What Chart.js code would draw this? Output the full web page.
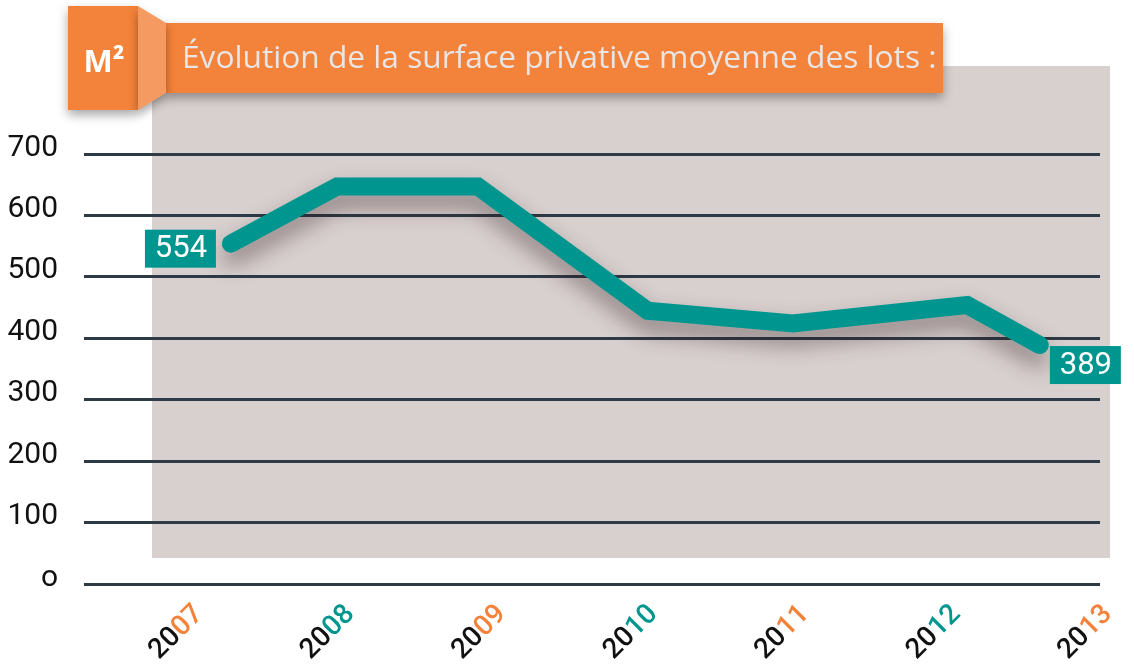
<!DOCTYPE html>
<html>
<head>
<meta charset="utf-8">
<script src="https://cdn.jsdelivr.net/npm/chart.js@4/dist/chart.umd.min.js"></script>
<style>
    html, body { margin: 0; padding: 0; background: #fff; }
    #wrap { width: 1134px; height: 669px; position: relative; }
</style>
</head>
<body>
<div id="wrap"><canvas id="myChart" width="1134" height="669"></canvas></div>
<script>
// données
var years = ["2007", "2008", "2009", "2010", "2011", "2012", "2013"];
var yearPos = [2007.17, 2007.87, 2008.8, 2009.92, 2010.88, 2012.03, 2012.51]; // position des points sur l'axe des années
var surface = [554, 647, 647, 445, 424, 454, 389];
var yTicks = [0, 100, 200, 300, 400, 500, 600, 700];
var yLabels = ["o", "100", "200", "300", "400", "500", "600", "700"];
var title = "Évolution de la surface privative moyenne des lots :";

var ORANGE = "#f3823a";
var TEAL = "#00968f";

// fond gris + bandeau titre
var backgroundPlugin = {
    id: "background",
    beforeDraw: function(chart) {
        var ctx = chart.ctx;
        ctx.save();
        ctx.fillStyle = "#d8d0cf";
        ctx.fillRect(152, 66, 958, 492);

        // bandeau
        ctx.shadowColor = "rgba(0,0,0,0.35)";
        ctx.shadowBlur = 10;
        ctx.shadowOffsetY = 5;
        ctx.fillStyle = ORANGE;
        ctx.fillRect(165, 23, 778, 70);
        ctx.fillRect(68, 6, 70, 104);
        ctx.fillStyle = "#f59b62";
        ctx.beginPath();
        ctx.moveTo(138, 6);
        ctx.lineTo(166, 23);
        ctx.lineTo(166, 93);
        ctx.lineTo(138, 110);
        ctx.closePath();
        ctx.fill();
        ctx.restore();

        ctx.save();
        ctx.fillStyle = "#ffffff";
        ctx.font = "bold 31px 'Open Sans'";
        ctx.textBaseline = "middle";
        ctx.textAlign = "center";
        ctx.fillText("M²", 104, 63);
        ctx.fillStyle = "#e9e5e4";
        ctx.font = "31.7px 'Open Sans'";
        ctx.textAlign = "left";
        ctx.fillText(title, 182, 59);
        ctx.restore();
    }
};

// ombre sous la courbe
var shadowPlugin = {
    id: "lineShadow",
    beforeDatasetDraw: function(chart) {
        var ctx = chart.ctx;
        ctx.save();
        ctx.shadowColor = "rgba(40,20,20,0.45)";
        ctx.shadowBlur = 22;
        ctx.shadowOffsetY = 12;
    },
    afterDatasetDraw: function(chart) {
        chart.ctx.restore();
    }
};

// étiquettes années (2 couleurs) + valeurs début/fin
var labelsPlugin = {
    id: "labels",
    afterDraw: function(chart) {
        var ctx = chart.ctx;
        var xs = chart.scales.x;
        var y0 = chart.scales.y.getPixelForValue(0);
        ctx.save();
        ctx.font = "500 28px Roboto";
        ctx.textBaseline = "middle";
        years.forEach(function(yr, i) {
            var x = xs.getPixelForValue(+yr) - 6;
            var head = yr.slice(0, 2);
            var tail = yr.slice(2);
            ctx.save();
            ctx.translate(x, y0 + 26);
            ctx.rotate(-Math.PI / 4);
            var wTail = ctx.measureText(tail).width;
            ctx.textAlign = "right";
            ctx.fillStyle = (i % 2 === 0) ? ORANGE : TEAL;
            ctx.fillText(tail, 0, 0);
            ctx.fillStyle = "#111";
            ctx.fillText(head, -wTail, 0);
            ctx.restore();
        });

        var meta = chart.getDatasetMeta(0);
        var first = meta.data[0];
        var last = meta.data[meta.data.length - 1];
        ctx.font = "31px Roboto";
        ctx.textAlign = "center";
        ctx.fillStyle = TEAL;
        ctx.fillRect(first.x - 86, first.y - 14, 71, 38);
        ctx.fillRect(last.x + 10, last.y + 1, 71, 38);
        ctx.fillStyle = "#fff";
        ctx.fillText(String(surface[0]), first.x - 50, first.y + 6);
        ctx.fillText(String(surface[surface.length - 1]), last.x + 46, last.y + 21);
        ctx.restore();
    }
};

var ctx = document.getElementById("myChart").getContext("2d");
var myChart = new Chart(ctx, {
    type: "line",
    data: {
        datasets: [{
            label: "Surface privative moyenne",
            data: yearPos.map(function(x, i) { return { x: x, y: surface[i] }; }),
            borderColor: TEAL,
            borderWidth: 18,
            borderCapStyle: "round",
            borderJoinStyle: "miter",
            pointRadius: 0,
            tension: 0,
            fill: false
        }]
    },
    options: {
        responsive: false,
        animation: false,
        layout: { padding: { top: 154, right: 34, left: 0, bottom: 0 } },
        plugins: {
            legend: { display: false },
            tooltip: { enabled: false }
        },
        scales: {
            x: {
                type: "linear",
                min: 2006.2,
                max: 2012.907,
                grid: { display: false },
                border: { display: false },
                ticks: { display: false },
                afterFit: function(scale) { scale.height = 85; }
            },
            y: {
                min: 0,
                max: 700,
                afterFit: function(scale) { scale.width = 84; },
                afterBuildTicks: function(scale) {
                    scale.ticks = yTicks.map(function(v) { return { value: v }; });
                },
                border: { display: false },
                grid: {
                    color: "#2e3a46",
                    lineWidth: 3,
                    drawTicks: false
                },
                ticks: {
                    padding: 26,
                    labelOffset: -6,
                    color: "#111",
                    font: { family: "Roboto", size: 30, weight: "400" },
                    callback: function(value) {
                        return yLabels[yTicks.indexOf(value)];
                    }
                }
            }
        }
    },
    plugins: [backgroundPlugin, shadowPlugin, labelsPlugin]
});
</script>
</body>
</html>
